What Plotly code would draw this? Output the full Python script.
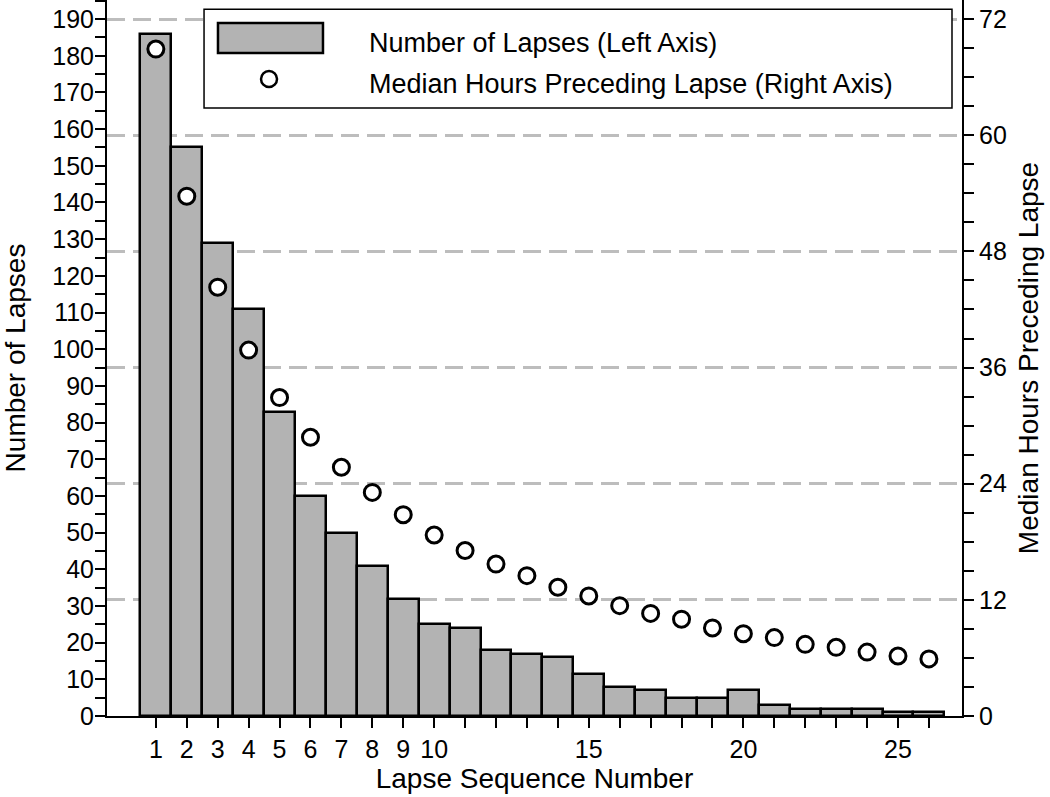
import plotly.graph_objects as go

# data
seq = list(range(1, 27))
lapses = [186, 155, 129, 111, 83, 60, 50, 41, 32, 25, 24, 18, 17, 16, 11.5, 8, 7, 5, 5, 7, 3, 2, 2, 2, 1, 1]
median_hours = [68.9, 53.7, 44.3, 37.8, 32.9, 28.8, 25.7, 23.1, 20.8, 18.7, 17.1, 15.7, 14.5,
                13.3, 12.4, 11.4, 10.6, 10.0, 9.1, 8.5, 8.1, 7.4, 7.1, 6.6, 6.2, 5.9]
x_ticktext = [str(i) if (i <= 10 or i % 5 == 0) else "" for i in seq]
left_ticks = list(range(0, 191, 10))
right_ticks = list(range(0, 73, 12))

FONT = "Liberation Sans, Arial, Helvetica, sans-serif"
GRAY = "#b3b3b3"
TICKFONT = dict(family=FONT, size=25, color="black")
TITLEFONT = dict(family=FONT, size=28, color="black")

fig = go.Figure()
fig.add_trace(go.Bar(x=seq, y=lapses, name="Number of Lapses (Left Axis)",
                     marker=dict(color=GRAY, line=dict(color="black", width=2.5)),
                     width=1.0, yaxis="y"))
fig.add_trace(go.Scatter(x=seq, y=median_hours, mode="markers", yaxis="y2",
                         name="Median Hours Preceding Lapse (Right Axis)",
                         marker=dict(symbol="circle", size=16, color="white",
                                     line=dict(color="black", width=3))))

top_left = 195.2
tick_style = dict(ticks="outside", ticklen=10, tickwidth=2, tickcolor="black",
                  showline=True, linecolor="black", linewidth=2, zeroline=False,
                  automargin=False, tickfont=TICKFONT, ticklabeloverflow="allow")

fig.update_layout(
    width=1050, height=797,
    margin=dict(l=107, r=88, t=0, b=81),
    plot_bgcolor="white", paper_bgcolor="white",
    font=dict(family=FONT, size=25, color="black"),
    showlegend=False, bargap=0,
    xaxis=dict(range=[-0.58, 27.07], tickvals=seq, ticktext=x_ticktext, showgrid=False,
               title=dict(text="Lapse Sequence Number", standoff=2, font=TITLEFONT),
               **tick_style),
    yaxis=dict(range=[0, top_left], tickvals=left_ticks, showgrid=False,
               ticklabelstandoff=-4,
               minor=dict(dtick=5, tick0=0, ticks="outside", ticklen=10, tickwidth=2,
                          tickcolor="black", showgrid=False),
               title=dict(text="Number of Lapses", standoff=30, font=TITLEFONT),
               **tick_style),
    yaxis2=dict(range=[0, top_left * 72 / 190], overlaying="y", side="right",
                tickvals=right_ticks,
                minor=dict(dtick=3, tick0=0, ticks="outside", ticklen=10, tickwidth=2,
                           tickcolor="black", showgrid=False),
                showgrid=True, gridcolor="#bdbdbd", gridwidth=3, griddash="18px,8px",
                title=dict(text="Median Hours Preceding Lapse", standoff=12, font=TITLEFONT),
                **tick_style),
)

# hand-drawn legend box like the original
fig.add_shape(type="rect", xref="paper", yref="paper", x0=0.1135, x1=0.9883, y0=0.849, y1=0.987,
              line=dict(color="black", width=1.5), fillcolor="white", layer="above")
fig.add_shape(type="rect", xref="paper", yref="paper", x0=0.1298, x1=0.2526, y0=0.926, y1=0.968,
              line=dict(color="black", width=2.5), fillcolor=GRAY, layer="above")
fig.add_shape(type="circle", xref="paper", yref="paper", xsizemode="pixel", ysizemode="pixel",
              xanchor=0.1895, yanchor=0.8897, x0=-8, x1=8, y0=-8, y1=8,
              line=dict(color="black", width=2.5), fillcolor="white", layer="above")
fig.add_annotation(xref="paper", yref="paper", x=0.304, y=0.94, xanchor="left", yanchor="middle",
                   text="Number of Lapses (Left Axis)", showarrow=False,
                   font=dict(family=FONT, size=27, color="black"))
fig.add_annotation(xref="paper", yref="paper", x=0.304, y=0.883, xanchor="left", yanchor="middle",
                   text="Median Hours Preceding Lapse (Right Axis)", showarrow=False,
                   font=dict(family=FONT, size=27, color="black"))

# drop the browser's default 8px body margin so the figure fills the window
fig.write_html("out.html", config={"displayModeBar": False},
               post_script="document.body.style.margin = '0';")
